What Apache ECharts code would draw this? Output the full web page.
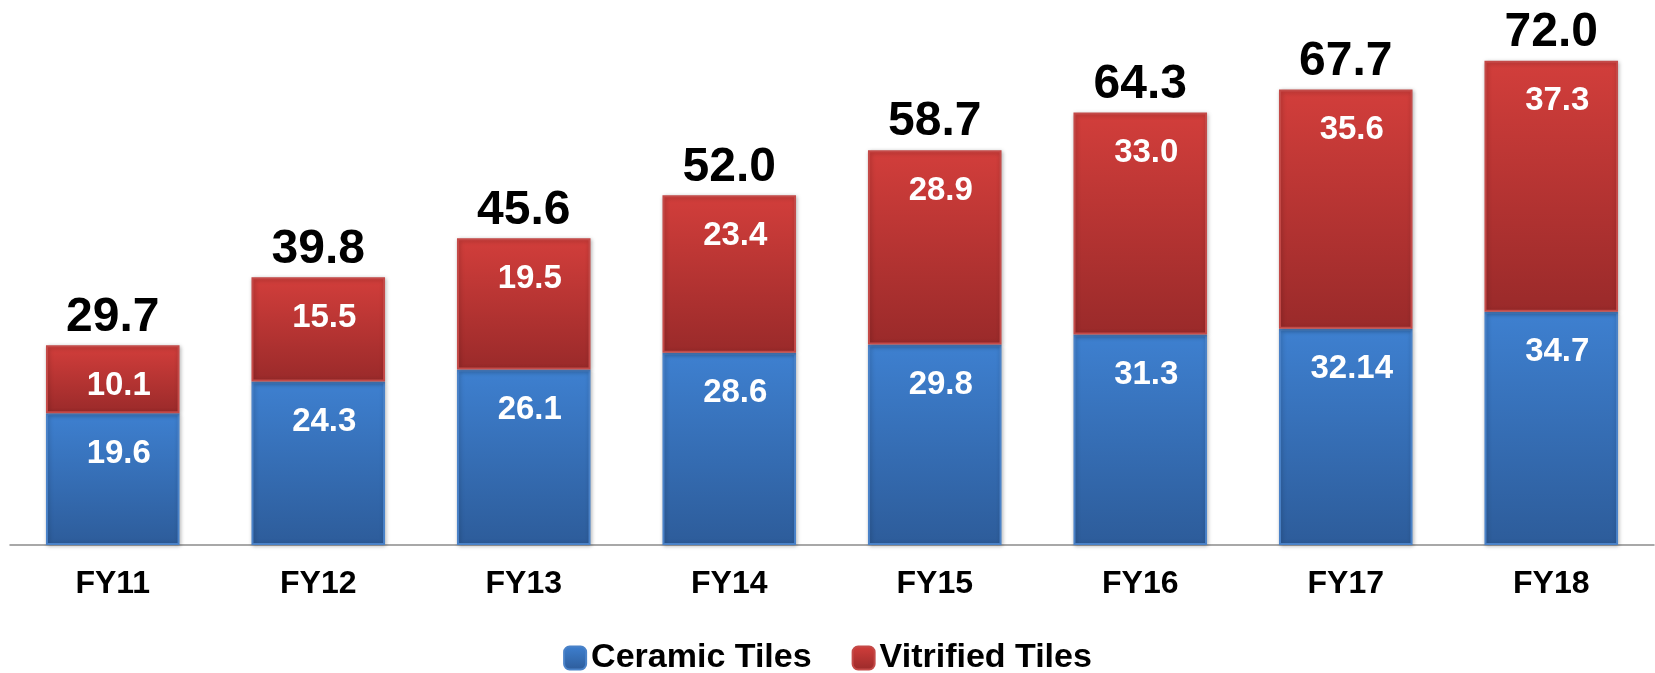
<!DOCTYPE html>
<html>
<head>
<meta charset="utf-8">
<script src="https://cdn.jsdelivr.net/npm/echarts@6/dist/echarts.min.js"></script>
<style>
html,body{margin:0;padding:0;background:#fff;}
#c{width:1655px;height:673px;}
</style>
</head>
<body>
<div id="c"></div>
<script>
const categories = ['FY11','FY12','FY13','FY14','FY15','FY16','FY17','FY18'];
const ceramic = [19.6, 24.3, 26.1, 28.6, 29.8, 31.3, 32.14, 34.7];
const vitrified = [10.1, 15.5, 19.5, 23.4, 28.9, 33.0, 35.6, 37.3];
const totals = [29.7, 39.8, 45.6, 52.0, 58.7, 64.3, 67.7, 72.0];

const FONT = 'Liberation Sans, Arial, sans-serif';
const chart = echarts.init(document.getElementById('c'));

const blueGrad = new echarts.graphic.LinearGradient(0,0,0,1,[
  {offset:0,color:'#3e80d0'},{offset:1,color:'#2d5c9a'}]);
const redGrad = new echarts.graphic.LinearGradient(0,0,0,1,[
  {offset:0,color:'#d23e3b'},{offset:1,color:'#9a2a2a'}]);

const fmt = p => Number.isInteger(p.value) ? p.value.toFixed(1) : String(p.value);

const innerLabel = {
  show:true, position:'insideTop', distance:24, offset:[6,0],
  color:'#ffffff', fontFamily:FONT, fontWeight:'bold', fontSize:33,
  formatter:fmt
};

chart.setOption({
  animation:false,
  grid:{left:10, right:1, top:7, bottom:128, containLabel:false},
  legend:{
    data:['Ceramic Tiles','Vitrified Tiles'],
    left:'center', top:636, itemWidth:22, itemHeight:23, itemGap:40,
    textStyle:{fontFamily:FONT, fontWeight:'bold', fontSize:34, color:'#000'}
  },
  xAxis:{
    type:'category', data:categories,
    axisLine:{lineStyle:{color:'#8c8c8c', width:1.5}},
    axisTick:{show:false},
    axisLabel:{color:'#000', fontFamily:FONT, fontWeight:'bold', fontSize:32, margin:23}
  },
  yAxis:{type:'value', min:0, max:80, show:false, splitLine:{show:false}},
  series:[
    {
      name:'Ceramic Tiles', type:'bar', stack:'a', data:ceramic, barWidth:'65%',
      itemStyle:{color:blueGrad, borderColor:'#4a82c8', borderWidth:2,
        shadowColor:'rgba(0,0,0,0.25)', shadowBlur:4, shadowOffsetX:1, shadowOffsetY:1},
      label:innerLabel
    },
    {
      name:'Vitrified Tiles', type:'bar', stack:'a', data:vitrified, barWidth:'65%',
      itemStyle:{color:redGrad, borderColor:'#c44a48', borderWidth:2,
        shadowColor:'rgba(0,0,0,0.25)', shadowBlur:4, shadowOffsetX:1, shadowOffsetY:1},
      label:innerLabel
    },
    {
      name:'Total', type:'bar', data:totals, barWidth:'65%', barGap:'-100%',
      itemStyle:{color:'rgba(0,0,0,0)'},
      silent:true,
      label:{show:true, position:'top', distance:4, color:'#000',
        fontFamily:FONT, fontWeight:'bold', fontSize:48,
        formatter:p=>p.value.toFixed(1)}
    }
  ]
});
</script>
</body>
</html>
